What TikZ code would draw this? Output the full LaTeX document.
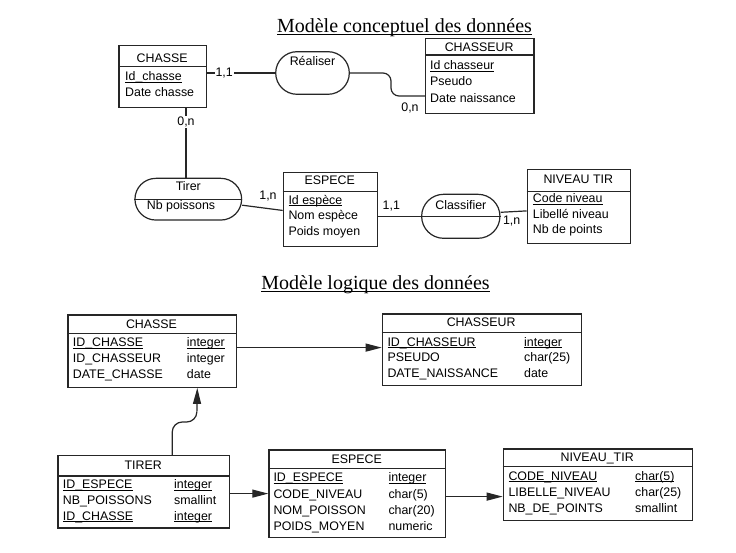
\documentclass[tikz,border=0pt]{standalone}
\usepackage{fontspec}
\setmainfont{Liberation Sans}
\newfontfamily\titlefont{Liberation Serif}
\usepackage{tikz}
\usetikzlibrary{arrows.meta, positioning, shapes.misc}

\newsavebox{\ulbox}
\newcommand{\souligne}[1]{\sbox{\ulbox}{#1}\rlap{\rule[-2pt]{\wd\ulbox}{0.8pt}}\usebox{\ulbox}}

\begin{document}
\begin{tikzpicture}[
    x=1pt, y=-1pt,
    box/.style={rectangle, draw=black!85, line width=1.2pt, anchor=north west, inner sep=0pt},
    assoc/.style={rounded rectangle, draw=black!85, line width=1.2pt, inner sep=0pt},
    sep/.style={draw=black!85, line width=1.2pt},
    hdr/.style={anchor=base, inner sep=0pt, font=\fontsize{12.4}{15}\selectfont},
    attr/.style={anchor=base west, inner sep=0pt, font=\fontsize{12.4}{15}\selectfont},
    card/.style={inner sep=1pt, font=\fontsize{12.4}{15}\selectfont},
    link/.style={draw=black!85, line width=1.2pt},
    fk/.style={link, -{Triangle[length=16pt, width=8pt]}},
    titre/.style={anchor=base, inner sep=0pt, font=\titlefont\fontsize{20}{24}\selectfont}
]
    \useasboundingbox (0,0) rectangle (736,553);

    % Titles
    \node[titre] (titre-mcd) at (404.5,33) {\souligne{Modèle conceptuel des données}};
    \node[titre] (titre-mld) at (375.5,289.5) {\souligne{Modèle logique des données}};

    % MCD - CHASSE
    \node[box, minimum width=87.7pt, minimum height=61.7pt] (chasse) at (118.3,45) {};
    \draw[sep] ([yshift=-21.7pt]chasse.north west) -- ([yshift=-21.7pt]chasse.north east);
    \node[hdr] (chasse-h) at (162.2,62.3) {CHASSE};
    \node[attr] (chasse-1) at (125,81) {\souligne{Id\_chasse}};
    \node[attr] (chasse-2) at (125,96.7) {Date chasse};

    % MCD - CHASSEUR
    \node[box, minimum width=108.3pt, minimum height=74.7pt] (chasseur) at (425,38.3) {};
    \draw[sep] ([yshift=-16.7pt]chasseur.north west) -- ([yshift=-16.7pt]chasseur.north east);
    \node[hdr] (chasseur-h) at (479.2,51.7) {CHASSEUR};
    \node[attr] (chasseur-1) at (430,70) {\souligne{Id chasseur}};
    \node[attr] (chasseur-2) at (430,86) {Pseudo};
    \node[attr] (chasseur-3) at (430,102.7) {Date naissance};

    % MCD - Realiser
    \node[assoc, minimum width=73.6pt, minimum height=42.6pt] (realiser) at (312.5,73) {};
    \node[hdr] (realiser-h) at (312.5,66) {Réaliser};

    % MCD - Tirer
    \node[assoc, minimum width=106.7pt, minimum height=41.7pt] (tirer) at (188.3,199.2) {};
    \draw[sep] (tirer.west) -- (tirer.east);
    \node[hdr] (tirer-h) at (188.3,190.7) {Tirer};
    \node[attr] (tirer-1) at (146.7,210) {Nb poissons};

    % MCD - ESPECE
    \node[box, minimum width=94pt, minimum height=74.3pt] (espece) at (282.7,171.7) {};
    \draw[sep] ([yshift=-20pt]espece.north west) -- ([yshift=-20pt]espece.north east);
    \node[hdr] (espece-h) at (329.7,185) {ESPECE};
    \node[attr] (espece-1) at (288.3,204.3) {\souligne{Id espèce}};
    \node[attr] (espece-2) at (288.3,220) {Nom espèce};
    \node[attr] (espece-3) at (288.3,236) {Poids moyen};

    % MCD - Classifier
    \node[assoc, minimum width=78.3pt, minimum height=44pt] (classifier) at (460.8,216.3) {};
    \draw[sep] (classifier.west) -- (classifier.east);
    \node[hdr] (classifier-h) at (460.8,209.3) {Classifier};

    % MCD - NIVEAU TIR
    \node[box, minimum width=103.3pt, minimum height=74pt] (niveau) at (526.7,169.3) {};
    \draw[sep] ([yshift=-22.4pt]niveau.north west) -- ([yshift=-22.4pt]niveau.north east);
    \node[hdr] (niveau-h) at (578.3,184) {NIVEAU TIR};
    \node[attr] (niveau-1) at (532.7,202.7) {\souligne{Code niveau}};
    \node[attr] (niveau-2) at (532.7,218.3) {Libellé niveau};
    \node[attr] (niveau-3) at (532.7,234) {Nb de points};

    % MCD links
    \coordinate (bend-r) at (391,96);
    \coordinate (tirer-top) at ([xshift=-2.3pt]tirer.north);
    \draw[link] (chasse.east |- realiser.west) -- node[card, pos=0.25, fill=white] (card-cr) {1,1} (realiser.west);
    \draw[link, rounded corners=8pt] (realiser.east) -| (bend-r) -- (bend-r -| chasseur.west);
    \draw[link] (chasse.south -| tirer-top) -- node[card, pos=0.2, fill=white] (card-ct) {0,n} (tirer-top);
    \draw[link] ([yshift=-6pt]tirer.east) -- ([yshift=-1pt]espece.west);
    \draw[link] (classifier.west -| espece.east) -- (classifier.west);
    \draw[link] ([yshift=4pt]classifier.east) -- ([yshift=-4pt]niveau.west);
    \node[card, anchor=base, inner sep=0pt] (card-rc) at (410,111.7) {0,n};
    \node[card, anchor=base, inner sep=0pt] (card-te) at (268,199.3) {1,n};
    \node[card, anchor=base, inner sep=0pt] (card-ec) at (391.3,210) {1,1};
    \node[card, anchor=base, inner sep=0pt] (card-cn) at (511.7,224.3) {1,n};

    % MLD - CHASSE
    \node[box, minimum width=168.4pt, minimum height=72.4pt] (lchasse) at (67.3,314.3) {};
    \draw[sep] ([yshift=-19pt]lchasse.north west) -- ([yshift=-19pt]lchasse.north east);
    \node[hdr] (lchasse-h) at (151.5,328.3) {CHASSE};
    \node[attr] (lchasse-1) at (72.7,346.7) {\souligne{ID\_CHASSE}};
    \node[attr] (lchasse-1t) at (186.7,346.7) {\souligne{integer}};
    \node[attr] (lchasse-2) at (72.7,362.7) {ID\_CHASSEUR};
    \node[attr] (lchasse-2t) at (186.7,362.7) {integer};
    \node[attr] (lchasse-3) at (72.7,378.3) {DATE\_CHASSE};
    \node[attr] (lchasse-3t) at (186.7,378.3) {date};

    % MLD - CHASSEUR
    \node[box, minimum width=199pt, minimum height=71.7pt] (lchasseur) at (381.7,313.3) {};
    \draw[sep] ([yshift=-19.4pt]lchasseur.north west) -- ([yshift=-19.4pt]lchasseur.north east);
    \node[hdr] (lchasseur-h) at (481.2,326.7) {CHASSEUR};
    \node[attr] (lchasseur-1) at (387.3,346) {\souligne{ID\_CHASSEUR}};
    \node[attr] (lchasseur-1t) at (524,346) {\souligne{integer}};
    \node[attr] (lchasseur-2) at (387.3,361.7) {PSEUDO};
    \node[attr] (lchasseur-2t) at (524,361.7) {char(25)};
    \node[attr] (lchasseur-3) at (387.3,377.3) {DATE\_NAISSANCE};
    \node[attr] (lchasseur-3t) at (524,377.3) {date};

    % MLD - TIRER
    \node[box, minimum width=171.7pt, minimum height=72.3pt] (ltirer) at (57.3,455) {};
    \draw[sep] ([yshift=-21pt]ltirer.north west) -- ([yshift=-21pt]ltirer.north east);
    \node[hdr] (ltirer-h) at (143.2,469.3) {TIRER};
    \node[attr] (ltirer-1) at (62.7,488.3) {\souligne{ID\_ESPECE}};
    \node[attr] (ltirer-1t) at (174,488.3) {\souligne{integer}};
    \node[attr] (ltirer-2) at (62.7,504) {NB\_POISSONS};
    \node[attr] (ltirer-2t) at (174,504) {smallint};
    \node[attr] (ltirer-3) at (62.7,520) {\souligne{ID\_CHASSE}};
    \node[attr] (ltirer-3t) at (174,520) {\souligne{integer}};

    % MLD - ESPECE
    \node[box, minimum width=176.7pt, minimum height=87.4pt] (lespece) at (268.3,449.3) {};
    \draw[sep] ([yshift=-19pt]lespece.north west) -- ([yshift=-19pt]lespece.north east);
    \node[hdr] (lespece-h) at (356.7,463.3) {ESPECE};
    \node[attr] (lespece-1) at (273.3,481.7) {\souligne{ID\_ESPECE}};
    \node[attr] (lespece-1t) at (388.3,481.7) {\souligne{integer}};
    \node[attr] (lespece-2) at (273.3,498.3) {CODE\_NIVEAU};
    \node[attr] (lespece-2t) at (388.3,498.3) {char(5)};
    \node[attr] (lespece-3) at (273.3,514) {NOM\_POISSON};
    \node[attr] (lespece-3t) at (388.3,514) {char(20)};
    \node[attr] (lespece-4) at (273.3,530) {POIDS\_MOYEN};
    \node[attr] (lespece-4t) at (388.3,530) {numeric};

    % MLD - NIVEAU_TIR
    \node[box, minimum width=189pt, minimum height=71.7pt] (lniveau) at (502.7,448.3) {};
    \draw[sep] ([yshift=-18.4pt]lniveau.north west) -- ([yshift=-18.4pt]lniveau.north east);
    \node[hdr] (lniveau-h) at (597.2,461.7) {NIVEAU\_TIR};
    \node[attr] (lniveau-1) at (508.3,480) {\souligne{CODE\_NIVEAU}};
    \node[attr] (lniveau-1t) at (635,480) {\souligne{char(5)}};
    \node[attr] (lniveau-2) at (508.3,496.7) {LIBELLE\_NIVEAU};
    \node[attr] (lniveau-2t) at (635,496.7) {char(25)};
    \node[attr] (lniveau-3) at (508.3,512.7) {NB\_DE\_POINTS};
    \node[attr] (lniveau-3t) at (635,512.7) {smallint};

    % MLD references
    \coordinate (lbend) at (196.7,422);
    \draw[fk] ([yshift=3.5pt]lchasse.east) -- ([yshift=3.5pt]lchasse.east -| lchasseur.west);
    \draw[fk, rounded corners=10pt] ([xshift=28.5pt]ltirer.north) |- (lbend) -- ([xshift=45.2pt]lchasse.south);
    \draw[fk] (lespece.west -| ltirer.east) -- (lespece.west);
    \draw[fk] ([yshift=-3pt]lespece.east) -- ([yshift=-3pt]lespece.east -| lniveau.west);
\end{tikzpicture}
\end{document}
